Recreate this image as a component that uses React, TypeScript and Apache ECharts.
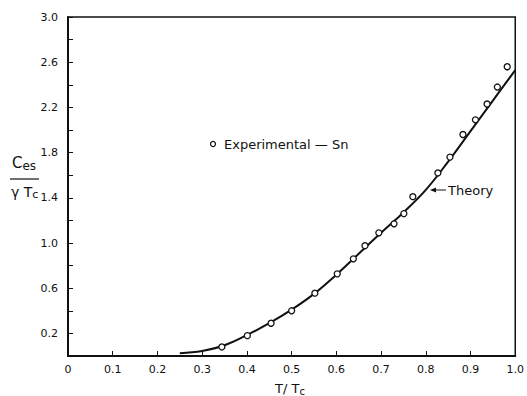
import React, { useEffect, useRef } from "react";
import * as echarts from "echarts";

const expT = [0.344, 0.401, 0.454, 0.5, 0.552, 0.602, 0.638, 0.664, 0.695, 0.729, 0.751, 0.771, 0.827, 0.854, 0.883, 0.911, 0.937, 0.96, 0.982];
const expC = [0.08, 0.18, 0.29, 0.40, 0.556, 0.727, 0.86, 0.976, 1.09, 1.17, 1.26, 1.41, 1.62, 1.76, 1.96, 2.09, 2.23, 2.38, 2.56];

const theoryT = [0.25, 0.3, 0.35, 0.4, 0.45, 0.5, 0.55, 0.6, 0.65, 0.7, 0.75, 0.8, 0.85, 0.9, 0.95, 1.0];
const theoryC = [0.025, 0.045, 0.095, 0.185, 0.29, 0.41, 0.55, 0.72, 0.905, 1.09, 1.27, 1.47, 1.72, 1.99, 2.26, 2.53];

const xTickLabels = ["0", "0.1", "0.2", "0.3", "0.4", "0.5", "0.6", "0.7", "0.8", "0.9", "1.0"];
const yTickLabels = ["0.2", "0.6", "1.0", "1.4", "1.8", "2.2", "2.6", "3.0"];

const FONT = "'DejaVu Sans', sans-serif";

export default function App() {
  const ref = useRef<HTMLDivElement>(null);
  useEffect(() => {
    if (!ref.current) return;
    const chart = echarts.init(ref.current, null, { renderer: "svg" });
    chart.setOption({
      animation: false,
      backgroundColor: "#fff",
      grid: { left: 68, right: 8, top: 17, bottom: 40, show: true, borderColor: "#111", borderWidth: 1.5, backgroundColor: "transparent" },
      xAxis: {
        type: "value", min: 0, max: 1, interval: 0.1,
        axisLine: { show: true, lineStyle: { color: "#111", width: 2 } },
        axisTick: { show: true, inside: true, length: 5, lineStyle: { color: "#111", width: 1 } },
        splitLine: { show: false },
        axisLabel: {
          color: "#111", fontSize: 11, fontFamily: FONT, margin: 8,
          formatter: (v: number) => xTickLabels[Math.round(v * 10)] ?? "",
        },
      },
      yAxis: {
        type: "value", min: 0, max: 3, interval: 0.2,
        axisLine: { show: true, lineStyle: { color: "#111", width: 2 } },
        axisTick: { show: true, inside: true, length: 5, lineStyle: { color: "#111", width: 1 } },
        splitLine: { show: false },
        axisLabel: {
          color: "#111", fontSize: 11, fontFamily: FONT, margin: 10,
          formatter: (v: number) => {
            const k = Math.round(v * 10);
            const s = (k / 10).toFixed(1);
            return yTickLabels.includes(s) ? s : "";
          },
        },
      },
      series: [
        {
          type: "line", name: "Theory", smooth: 0.4, symbol: "none",
          data: theoryT.map((t, i) => [t, theoryC[i]]),
          lineStyle: { color: "#111", width: 2 },
          z: 2,
        },
        {
          type: "scatter", name: "Experimental - Sn", symbol: "circle", symbolSize: 6,
          data: expT.map((t, i) => [t, expC[i]]),
          itemStyle: { color: "#fff", borderColor: "#111", borderWidth: 1.3, opacity: 1 },
          z: 3,
        },
      ],
      graphic: [
        { type: "circle", shape: { cx: 213, cy: 144, r: 2.5 }, style: { fill: "#fff", stroke: "#111", lineWidth: 1.2 } },
        { type: "text", x: 224, y: 144, style: { text: "Experimental — Sn", font: `13px ${FONT}`, fill: "#111", verticalAlign: "middle", align: "left" } },
        { type: "line", shape: { x1: 432, y1: 190, x2: 446, y2: 190 }, style: { stroke: "#111", lineWidth: 1 } },
        { type: "polygon", shape: { points: [[430, 190], [436, 187.5], [436, 192.5]] }, style: { fill: "#111" } },
        { type: "text", x: 448, y: 190, style: { text: "Theory", font: `13px ${FONT}`, fill: "#111", verticalAlign: "middle", align: "left" } },
        {
          type: "text", x: 12, y: 172,
          style: {
            text: "{c|C}{s|es}", verticalAlign: "bottom", align: "left", fill: "#111",
            rich: { c: { fontSize: 15, fontFamily: FONT, fill: "#111" }, s: { fontSize: 12, fontFamily: FONT, fill: "#111", verticalAlign: "bottom", padding: [6, 0, 0, 0] } },
          },
        },
        { type: "line", shape: { x1: 10, y1: 179, x2: 39, y2: 179 }, style: { stroke: "#111", lineWidth: 1.2 } },
        {
          type: "text", x: 11, y: 183,
          style: {
            text: "{g|γ T}{s|c}", verticalAlign: "top", align: "left", fill: "#111",
            rich: { g: { fontSize: 14, fontFamily: FONT, fill: "#111" }, s: { fontSize: 11, fontFamily: FONT, fill: "#111", padding: [6, 0, 0, 0] } },
          },
        },
        {
          type: "text", x: 290, y: 388,
          style: {
            text: "{t|T/ T}{s|c}", verticalAlign: "middle", align: "center", fill: "#111",
            rich: { t: { fontSize: 13, fontFamily: FONT, fill: "#111" }, s: { fontSize: 10, fontFamily: FONT, fill: "#111", padding: [6, 0, 0, 0] } },
          },
        },
      ],
    });
    return () => chart.dispose();
  }, []);
  return <div ref={ref} style={{ width: 527, height: 396, position: "absolute", left: 0, top: 0 }} />;
}
